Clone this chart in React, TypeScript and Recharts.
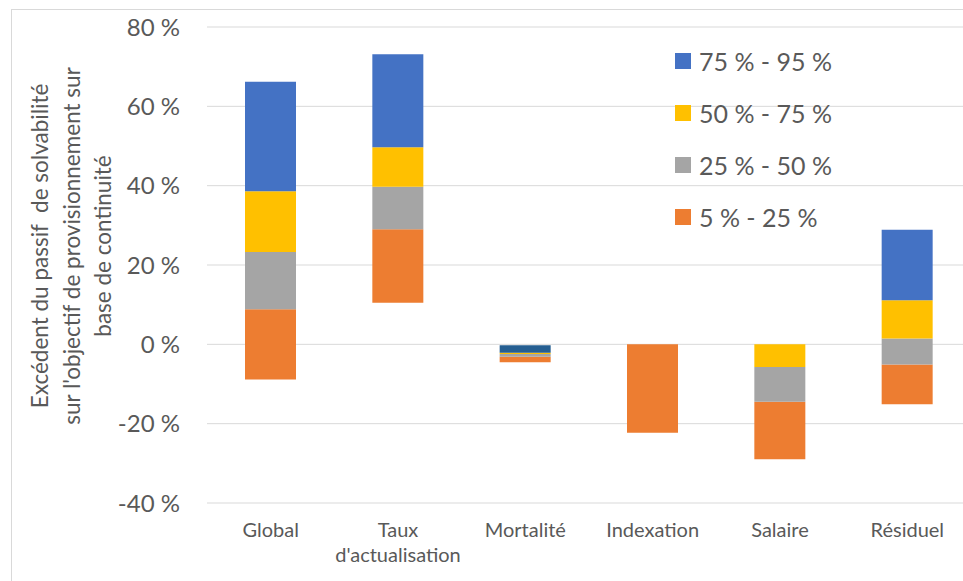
import { Bar, BarChart, CartesianGrid, Cell, Legend, XAxis, YAxis } from "recharts";

const categories = ["Global", "Taux d'actualisation", "Mortalité", "Indexation", "Salaire", "Résiduel"];
const tickLines = [["Global"], ["Taux", "d'actualisation"], ["Mortalité"], ["Indexation"], ["Salaire"], ["Résiduel"]];

// percentile bounds, in %
const p5 = [-8.85, 10.5, -4.5, -22.3, -29.0, -15.1];
const p25 = [8.85, 29.0, -3.1, 0, -14.5, -5.1];
const p50 = [23.3, 39.7, -2.45, 0, -5.7, 1.45];
const p75 = [38.6, 49.7, -2.1, 0, 0, 11.1];
const p95 = [66.2, 73.1, -0.25, 0, 0, 28.9];

const yTicks = [-40, -20, 0, 20, 40, 60, 80];
const titleLines = ["Excédent du passif  de solvabilité", "sur l'objectif de provisionnement sur", "base de continuité"];

const series = [
  { key: "b1", name: "5 % - 25 %", color: "#ED7D31" },
  { key: "b2", name: "25 % - 50 %", color: "#A5A5A5" },
  { key: "b3", name: "50 % - 75 %", color: "#FFC000" },
  { key: "b4", name: "75 % - 95 %", color: "#4472C4" },
];

const data = categories.map((c, i) => ({
  name: c,
  b1: [p5[i], p25[i]],
  b2: [p25[i], p50[i]],
  b3: [p50[i], p75[i]],
  b4: [p75[i], p95[i]],
}));

const FONT = "Lato, 'Open Sans', sans-serif";
const TEXT = "#595959";

function CatTick({ x, y, index }: any) {
  const lines = tickLines[index] || [];
  return (
    <text x={x} y={y} textAnchor="middle" fill={TEXT} fontSize={20} fontFamily={FONT}>
      {lines.map((l, k) => (
        <tspan key={k} x={x} dy={k === 0 ? 28 : 25}>
          {l}
        </tspan>
      ))}
    </text>
  );
}

function YTitle() {
  return (
    <text transform="translate(40,246) rotate(-90)" textAnchor="middle" fill={TEXT} fontSize={22.5} fontFamily={FONT} style={{ whiteSpace: "pre" }}>
      {titleLines.map((l, k) => (
        <tspan key={k} x={0} dy={k === 0 ? 8 : 31.5}>
          {l}
        </tspan>
      ))}
    </text>
  );
}

function LegendBox() {
  return (
    <div style={{ fontFamily: FONT }}>
      {[...series].reverse().map((s) => (
        <div key={s.key} style={{ display: "flex", alignItems: "center", height: 52 }}>
          <span style={{ width: 16, height: 16, background: s.color, display: "inline-block", marginRight: 8 }} />
          <span style={{ fontSize: 25, color: TEXT }}>{s.name}</span>
        </div>
      ))}
    </div>
  );
}

export default function App() {
  return (
    <div style={{ position: "fixed", left: 0, top: 0, width: 963, height: 581, overflow: "hidden", background: "#fff" }}>
      <div style={{ position: "absolute", left: 11, top: 9, width: 1200, height: 900, border: "1px solid #D9D9D9" }} />
      <div style={{ position: "absolute", left: 0, top: 0 }}>
        <BarChart
          width={975}
          height={581}
          data={data}
          margin={{ top: 27, right: 4, bottom: 0, left: 0 }}
          barGap={-51}
        >
          <CartesianGrid vertical={false} stroke="#D9D9D9" />
          <XAxis dataKey="name" height={78} axisLine={false} tickLine={false} tickMargin={0} tick={<CatTick />} interval={0} />
          <YAxis
            width={207}
            domain={[-40, 80]}
            ticks={yTicks}
            axisLine={false}
            tickLine={false}
            tickSize={0}
            tickMargin={27}
            tickFormatter={(v: number) => `${v} %`}
            tick={{ fill: TEXT, fontSize: 24, fontFamily: FONT }}
            label={{ content: <YTitle /> }}
          />
          <Legend
            layout="vertical"
            verticalAlign="middle"
            align="center"
            content={<LegendBox />}
            wrapperStyle={{ left: 675, top: 35, width: 240, right: "auto", bottom: "auto" }}
          />
          {series.map((s) => (
            <Bar key={s.key} dataKey={s.key} name={s.name} fill={s.color} barSize={51} isAnimationActive={false}>
              {s.key === "b4"
                ? data.map((d) => <Cell key={d.name} fill={d.name === "Mortalité" ? "#255E91" : s.color} />)
                : null}
            </Bar>
          ))}
        </BarChart>
      </div>
    </div>
  );
}
